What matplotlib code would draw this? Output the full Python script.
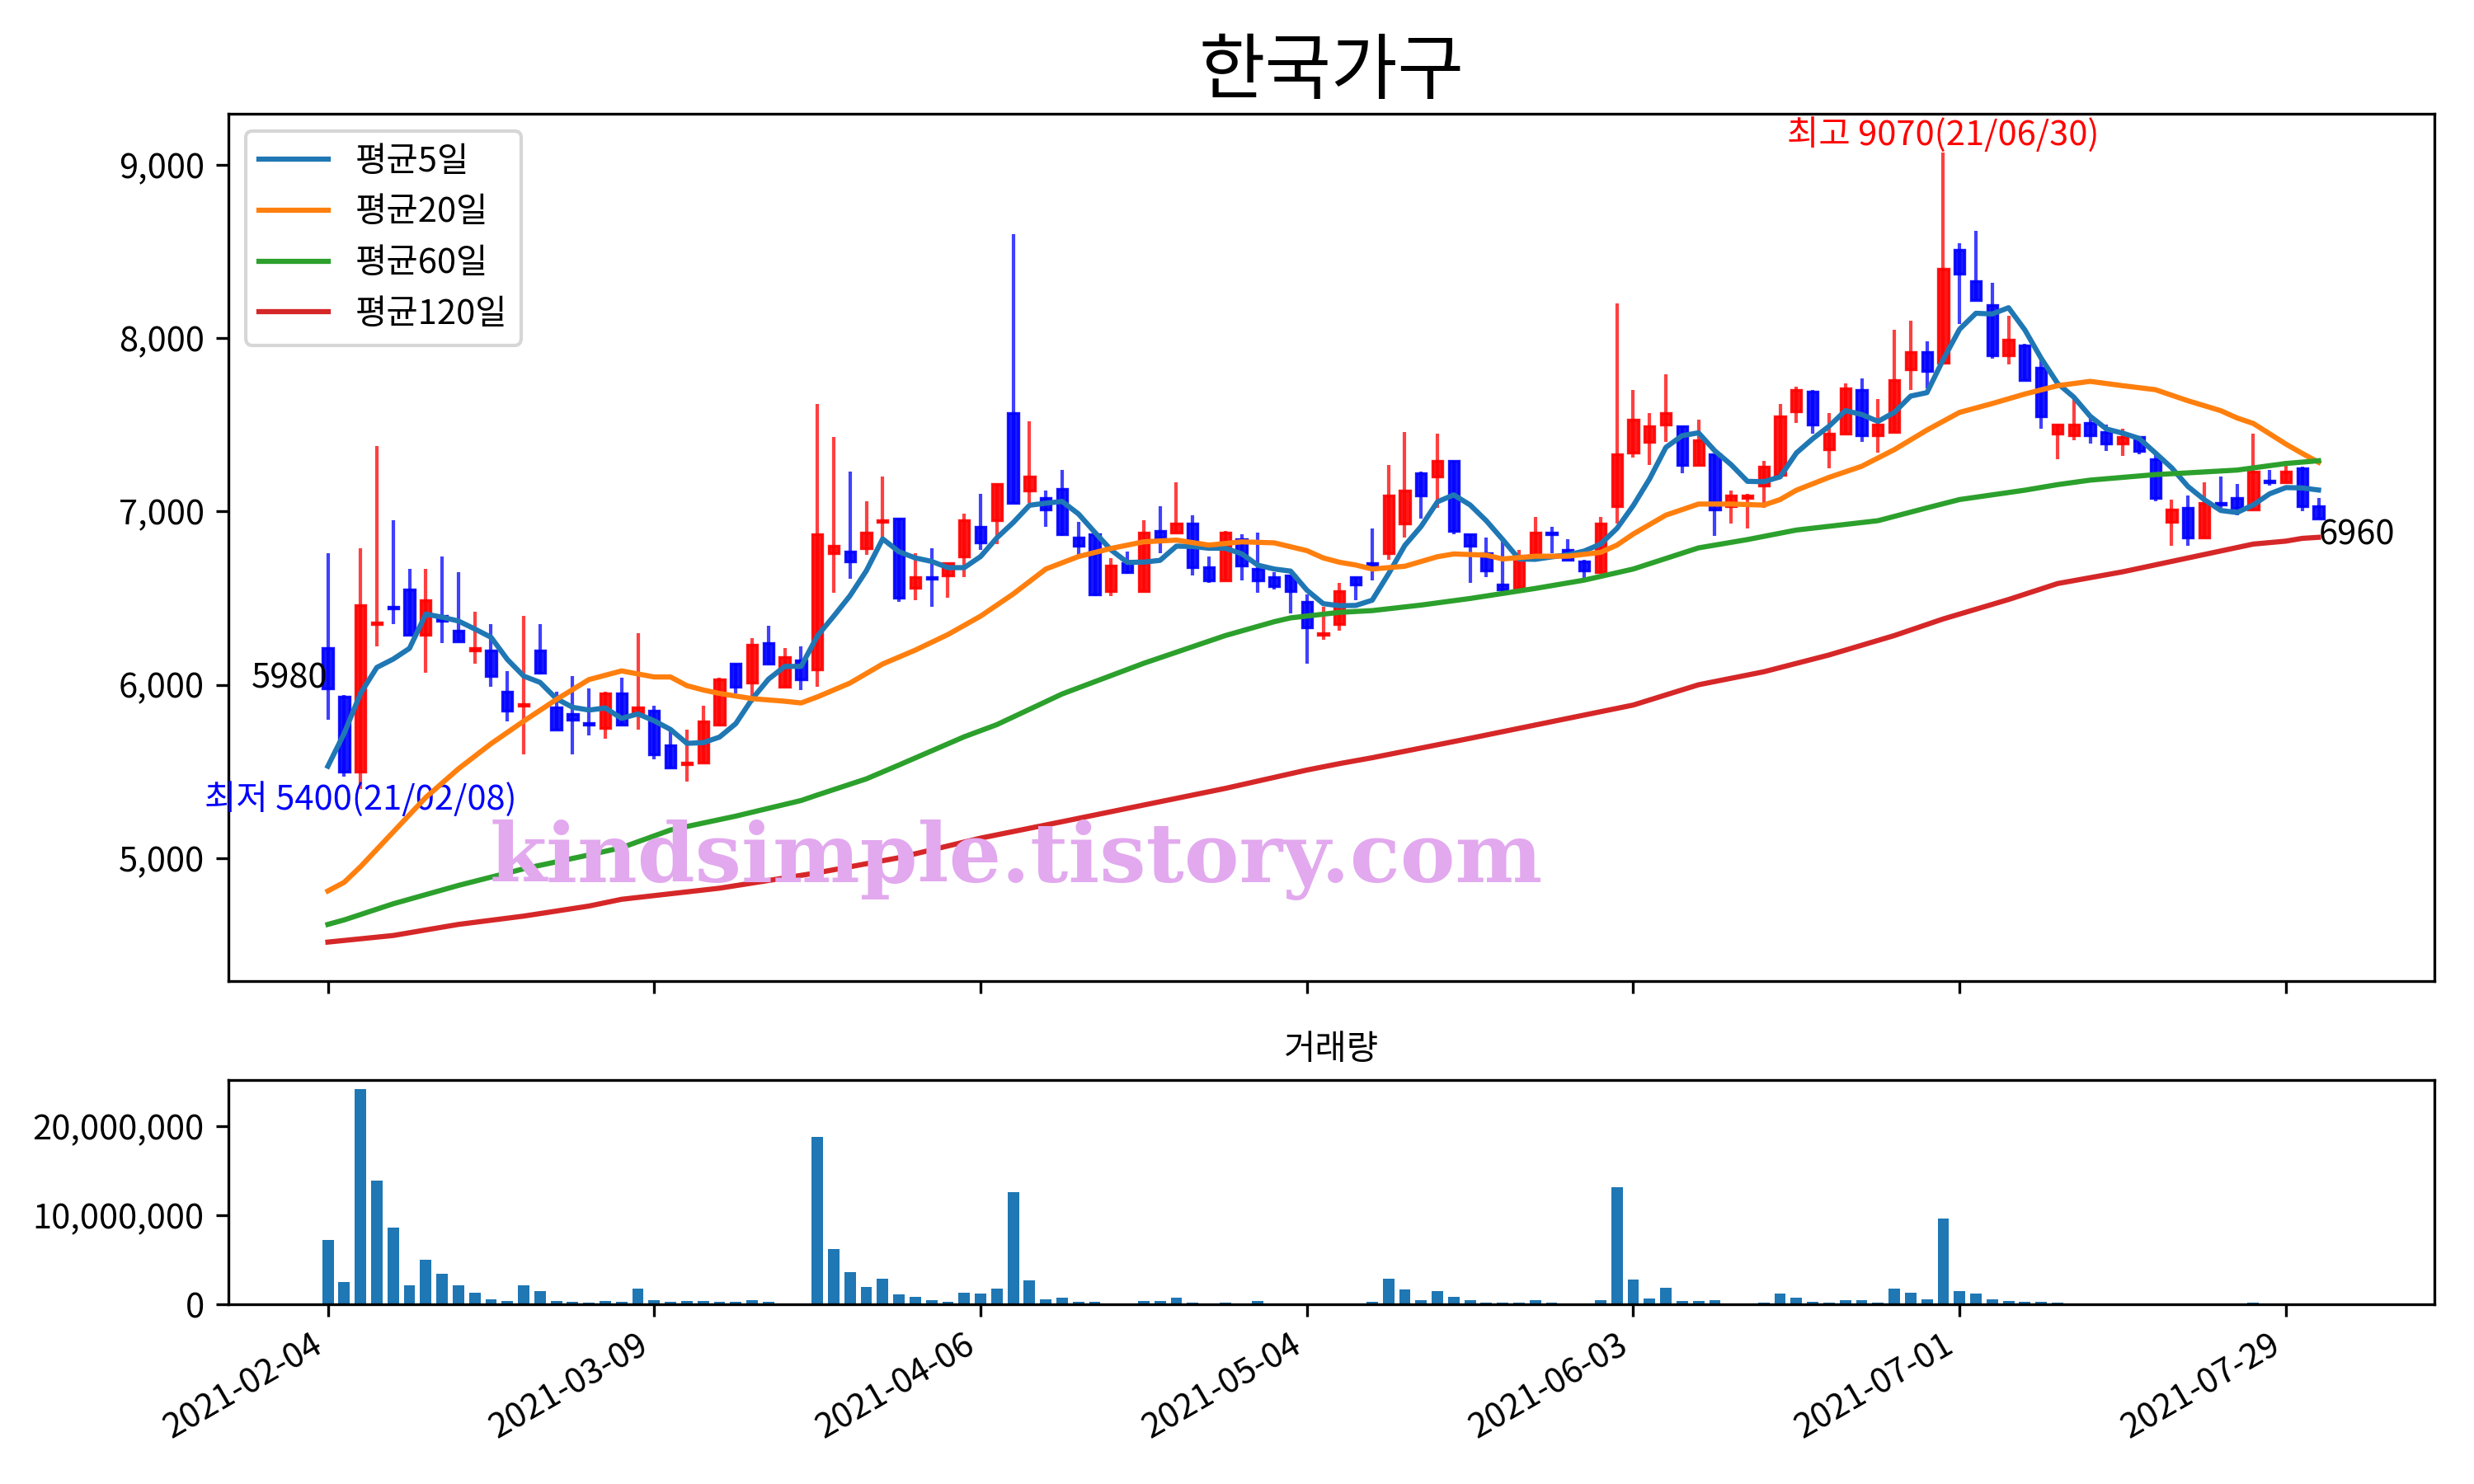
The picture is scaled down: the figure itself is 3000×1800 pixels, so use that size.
import numpy as np
import pandas as pd
import matplotlib
matplotlib.use("Agg")
import matplotlib.pyplot as plt
from matplotlib.ticker import FuncFormatter

plt.rcParams['font.family'] = ['Noto Sans CJK KR', 'DejaVu Sans']
plt.rcParams['axes.unicode_minus'] = False

# ---- data ----
title = "한국가구"
tick_idx = [0, 20, 40, 60, 80, 100, 120]
tick_labels = ["2021-02-04", "2021-03-09", "2021-04-06", "2021-05-04",
               "2021-06-03", "2021-07-01", "2021-07-29"]

opens = [6210, 5930, 5500, 6350, 6450, 6550, 6290, 6400, 6310, 6200,
         6200, 5960, 5880, 6200, 5870, 5830, 5780, 5750, 5950, 5840,
         5850, 5650, 5540, 5550, 5770, 6120, 6010, 6240, 5990, 6140,
         6090, 6760, 6770, 6790, 6940, 6960, 6560, 6620, 6630, 6740,
         6910, 6950, 7570, 7120, 7080, 7130, 6850, 6870, 6540, 6700,
         6540, 6890, 6880, 6930, 6680, 6600, 6840, 6670, 6620, 6630,
         6480, 6290, 6350, 6620, 6700, 6760, 6930, 7220, 7200, 7290,
         6870, 6760, 6580, 6560, 6750, 6880, 6780, 6710, 6650, 7030,
         7340, 7400, 7500, 7490, 7270, 7330, 7030, 7080, 7150, 7210,
         7580, 7690, 7360, 7450, 7700, 7440, 7460, 7820, 7920, 7860,
         8510, 8330, 8190, 7900, 7960, 7830, 7450, 7440, 7510, 7460,
         7390, 7430, 7300, 6940, 7020, 6850, 7050, 7080, 7010, 7180,
         7170, 7250, 7030]
highs = [6760, 5940, 6790, 7380, 6950, 6670, 6670, 6740, 6650, 6420,
         6350, 6080, 6400, 6350, 5960, 6050, 5980, 5960, 6040, 6300,
         5880, 5740, 5740, 5880, 6040, 6120, 6270, 6340, 6210, 6220,
         7620, 7430, 7230, 7060, 7200, 6960, 6760, 6790, 6700, 6990,
         7100, 7160, 8600, 7520, 7120, 7240, 6940, 6870, 6730, 6770,
         6950, 7030, 7170, 6980, 6740, 6890, 6870, 6880, 6650, 6630,
         6520, 6450, 6590, 6620, 6900, 7270, 7460, 7230, 7450, 7290,
         6870, 6850, 6830, 6780, 6970, 6910, 6840, 6720, 6970, 8200,
         7700, 7570, 7790, 7490, 7530, 7330, 7120, 7100, 7290, 7620,
         7720, 7700, 7570, 7740, 7770, 7650, 8050, 8100, 7980, 9070,
         8550, 8620, 8320, 8130, 7970, 7890, 7500, 7650, 7540, 7500,
         7480, 7430, 7340, 7070, 7090, 7170, 7200, 7160, 7450, 7240,
         7290, 7260, 7080]
lows = [5800, 5470, 5400, 6220, 6350, 6290, 6070, 6240, 6250, 6120,
        5990, 5790, 5600, 6060, 5740, 5600, 5710, 5690, 5770, 5740,
        5570, 5520, 5440, 5550, 5760, 5950, 5900, 6120, 5990, 5970,
        5990, 6530, 6610, 6750, 6850, 6480, 6490, 6450, 6500, 6620,
        6780, 6810, 7050, 7050, 6910, 6860, 6730, 6510, 6510, 6640,
        6540, 6760, 6880, 6630, 6590, 6600, 6600, 6530, 6550, 6410,
        6120, 6260, 6310, 6490, 6600, 6720, 6850, 6960, 7020, 6870,
        6590, 6620, 6540, 6550, 6750, 6760, 6720, 6610, 6650, 6930,
        7310, 7270, 7400, 7220, 7270, 6860, 6930, 6900, 7020, 7210,
        7510, 7450, 7250, 7450, 7400, 7340, 7460, 7700, 7710, 7860,
        8080, 8220, 7880, 7850, 7760, 7480, 7300, 7410, 7390, 7350,
        7320, 7330, 7060, 6800, 6800, 6850, 7020, 6980, 7010, 7150,
        7170, 7000, 6960]
closes = [5980, 5500, 6460, 6360, 6440, 6290, 6490, 6370, 6250, 6210,
          6050, 5850, 5890, 6070, 5740, 5800, 5770, 5950, 5770, 5870,
          5600, 5520, 5550, 5790, 6030, 5990, 6230, 6120, 6160, 6030,
          6870, 6800, 6710, 6880, 6950, 6500, 6620, 6610, 6700, 6950,
          6820, 7160, 7050, 7200, 7010, 6870, 6800, 6520, 6690, 6650,
          6880, 6850, 6930, 6680, 6600, 6880, 6690, 6600, 6570, 6540,
          6330, 6300, 6540, 6580, 6690, 7090, 7120, 7090, 7290, 6890,
          6800, 6660, 6550, 6730, 6880, 6870, 6720, 6660, 6930, 7330,
          7530, 7490, 7570, 7270, 7410, 7010, 7090, 7090, 7260, 7550,
          7700, 7500, 7450, 7710, 7440, 7500, 7760, 7920, 7810, 8400,
          8370, 8220, 7900, 7990, 7760, 7550, 7500, 7500, 7440, 7390,
          7430, 7350, 7080, 7010, 6850, 7050, 7040, 7020, 7230, 7170,
          7230, 7030, 6960]
volume = [7.25, 2.53, 24.2, 13.9, 8.64, 2.16, 5.03, 3.46, 2.16, 1.33,
          0.59, 0.40, 2.16, 1.51, 0.40, 0.31, 0.22, 0.40, 0.31, 1.79,
          0.49, 0.31, 0.40, 0.40, 0.31, 0.31, 0.49, 0.31, 0.12, 0.12,
          18.8, 6.23, 3.64, 1.98, 2.90, 1.14, 0.86, 0.49, 0.31, 1.33,
          1.23, 1.79, 12.6, 2.72, 0.59, 0.77, 0.31, 0.31, 0.12, 0.12,
          0.40, 0.40, 0.77, 0.22, 0.05, 0.22, 0.12, 0.40, 0.05, 0.12,
          0.12, 0.12, 0.12, 0.05, 0.31, 2.90, 1.70, 0.49, 1.51, 0.86,
          0.49, 0.22, 0.22, 0.22, 0.49, 0.22, 0.12, 0.12, 0.49, 13.2,
          2.81, 0.68, 1.88, 0.40, 0.40, 0.49, 0.12, 0.12, 0.22, 1.23,
          0.77, 0.31, 0.22, 0.49, 0.49, 0.22, 1.79, 1.33, 0.59, 9.66,
          1.51, 1.23, 0.59, 0.40, 0.31, 0.31, 0.22, 0.12, 0.12, 0.12,
          0.05, 0.05, 0.12, 0.05, 0.05, 0.05, 0.05, 0.05, 0.22, 0.05,
          0.05, 0.05, 0.05]  # millions of shares

# first 4 points of the 5-day average come from data before the window
ma5_head = [5530, 5720, 5950, 6100]
ma20_idx = [0, 1, 2, 4, 6, 8, 10, 12, 14, 16, 18, 20, 21, 22, 23, 24, 26, 28, 29, 30,
            32, 34, 36, 38, 40, 42, 44, 46, 48, 50, 52, 54, 56, 58, 60, 61, 62, 63, 64,
            66, 68, 69, 71, 72, 74, 76, 78, 79, 80, 82, 84, 86, 88, 89, 90, 92, 94, 96,
            98, 100, 102, 104, 106, 108, 110, 112, 114, 116, 117, 118, 120, 121, 122]
ma20_val = [4810, 4860, 4950, 5150, 5350, 5515, 5660, 5790, 5915, 6030, 6080, 6045, 6045,
            5995, 5970, 5950, 5920, 5905, 5895, 5930, 6010, 6120, 6200, 6290, 6396, 6524,
            6668, 6740, 6787, 6825, 6835, 6806, 6825, 6819, 6774, 6732, 6707, 6691, 6668,
            6684, 6739, 6755, 6748, 6726, 6742, 6742, 6764, 6806, 6870, 6979, 7043, 7043,
            7037, 7069, 7123, 7197, 7261, 7357, 7470, 7572, 7623, 7678, 7726, 7751, 7726,
            7703, 7639, 7582, 7540, 7508, 7389, 7335, 7284]
ma60_idx = [0, 1, 4, 8, 12, 16, 18, 21, 25, 29, 30, 33, 35, 39, 41, 45, 50, 55, 58, 59,
            62, 64, 67, 70, 74, 77, 80, 84, 87, 90, 95, 98, 100, 104, 106, 108, 110, 112,
            114, 117, 120, 122]
ma60_val = [4617, 4643, 4736, 4842, 4938, 5018, 5060, 5162, 5242, 5332, 5364, 5457, 5537,
            5700, 5770, 5947, 6124, 6284, 6364, 6386, 6418, 6428, 6460, 6498, 6556, 6604,
            6668, 6790, 6838, 6893, 6947, 7021, 7069, 7123, 7155, 7181, 7197, 7213, 7223,
            7239, 7277, 7293]
ma120_idx = [0, 4, 8, 12, 16, 18, 24, 30, 35, 40, 45, 50, 55, 60, 62, 64, 70, 75, 80, 84,
             88, 92, 96, 99, 103, 106, 110, 114, 118, 120, 121, 122]
ma120_val = [4515, 4553, 4617, 4665, 4723, 4762, 4826, 4915, 5002, 5115, 5210, 5306, 5402,
             5508, 5545, 5579, 5691, 5787, 5883, 6000, 6075, 6172, 6284, 6380, 6492, 6584,
             6652, 6732, 6812, 6829, 6845, 6851]

df = pd.DataFrame({"open": opens, "high": highs, "low": lows,
                   "close": closes, "volume": volume})
x = np.arange(len(df))
ma5 = df["close"].rolling(5).mean().to_numpy()
ma5[:4] = ma5_head

# ---- figure ----
fig = plt.figure(figsize=(10, 6), dpi=300)
ax1 = fig.add_axes([0.0923, 0.3389, 0.8917, 0.5844])
ax2 = fig.add_axes([0.0923, 0.1211, 0.8917, 0.1511], sharex=ax1)

up = df["close"] >= df["open"]
colors = np.where(up, "red", "blue")
ax1.vlines(x, df["low"], df["high"], colors=colors, linewidth=1.0, alpha=0.75, zorder=2)
body = (df["close"] - df["open"]).abs().to_numpy()
bottom = np.minimum(df["open"], df["close"])
ax1.bar(x, body, bottom=bottom, width=0.62, color=colors, edgecolor=colors,
        linewidth=0.8, alpha=0.9, zorder=3)

ax1.plot(x, ma5, color="tab:blue", label="평균5일", zorder=4)
ax1.plot(ma20_idx, ma20_val, color="tab:orange", label="평균20일", zorder=4)
ax1.plot(ma60_idx, ma60_val, color="tab:green", label="평균60일", zorder=4)
ax1.plot(ma120_idx, ma120_val, color="tab:red", label="평균120일", zorder=4)

# annotations
hi = int(np.argmax(highs))
lo = int(np.argmin(lows))
ax1.text(hi, highs[hi], f"최고 {highs[hi]}(21/06/30)", color="red",
         ha="center", va="bottom", fontsize=10)
ax1.text(lo, lows[lo] + 40, f"최저 {lows[lo]}(21/02/08)", color="blue",
         ha="center", va="top", fontsize=10)
ax1.text(0, closes[0], str(closes[0]), ha="right", va="baseline", fontsize=10)
ax1.text(x[-1], closes[-1], str(closes[-1]), ha="left", va="top", fontsize=10)

ax1.text(0.357, 0.14, "kindsimple.tistory.com", transform=ax1.transAxes,
         fontsize=24, fontweight="bold", family="DejaVu Serif", color="#e2a9ee",
         ha="center", va="center", zorder=6)

ax1.set_title(title, fontsize=21)
ax1.legend(loc="upper left", fontsize=10)
ax1.set_xlim(-6.1, 129.1)
ax1.set_ylim(4290, 9295)
ax1.yaxis.set_major_formatter(FuncFormatter(lambda v, p: f"{v:,.0f}"))
ax1.set_xticks(tick_idx)
ax1.tick_params(labelbottom=False)

ax2.bar(x, df["volume"] * 1e6, width=0.7, color="tab:blue")
ax2.set_title("거래량", fontsize=10)
ax2.set_ylim(0, 25.2e6)
ax2.set_yticks([0, 10e6, 20e6])
ax2.yaxis.set_major_formatter(FuncFormatter(lambda v, p: f"{v:,.0f}"))
ax2.set_xticks(tick_idx)
ax2.set_xticklabels(tick_labels, rotation=30, ha="right")

fig.savefig("out.png", dpi=300)
print("out.png created")
